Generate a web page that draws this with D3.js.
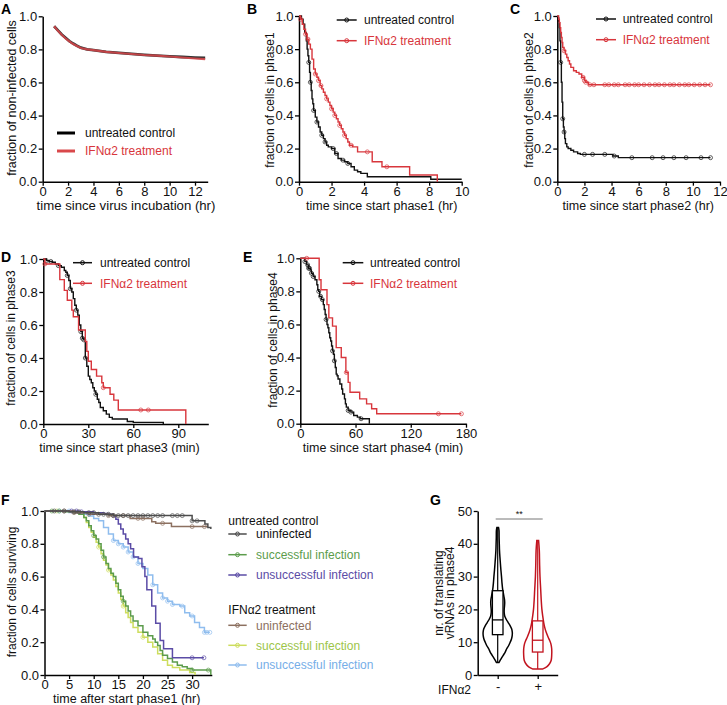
<!DOCTYPE html>
<html><head><meta charset="utf-8">
<script src="https://cdn.jsdelivr.net/npm/d3@7/dist/d3.min.js"></script>
<style>body{margin:0;background:#fff} svg text{font-family:"Liberation Sans",Arial,sans-serif}</style>
</head><body><script>
// ---------- DATA ----------
// Panel A: fraction of non-infected cells
const A_time = [0.9,1.2,1.5,1.8,2.1,2.4,2.7,3.0,3.5,4,5,6,7,8,9,10,11,12,12.8];
const A_ctrl = [0.94,0.915,0.89,0.87,0.85,0.835,0.822,0.81,0.80,0.795,0.785,0.779,0.773,0.767,0.762,0.758,0.754,0.75,0.748];
const A_ifn  = [0.94,0.912,0.888,0.866,0.848,0.832,0.82,0.808,0.80,0.795,0.785,0.778,0.772,0.766,0.762,0.757,0.751,0.745,0.741];

// Panel B: phase1 (hr)
const B_ctrl_t = [0,0.15,0.25,0.35,0.45,0.5,0.55,0.6,0.65,0.7,0.75,0.8,0.85,0.9,1.0,1.1,1.2,1.3,1.4,1.5,1.6,1.7,1.8,2.0,2.2,2.4,2.6,2.8,3.0,3.2,3.4,3.6,3.8,4.2,8.1];
const B_ctrl_s = [1,0.98,0.95,0.9,0.85,0.8,0.76,0.72,0.66,0.6,0.55,0.5,0.47,0.43,0.39,0.36,0.33,0.3,0.28,0.26,0.24,0.22,0.21,0.2,0.17,0.14,0.13,0.12,0.11,0.09,0.07,0.06,0.05,0.03,0.015];
const B_ctrl_end = 10;
const B_ctrl_cens = [0.6,0.7,0.9,1.1,1.4,1.6,2.1,2.3,2.7,3.0];
const B_ifn_t = [0,0.1,0.2,0.3,0.4,0.5,0.6,0.7,0.8,0.9,1.0,1.1,1.2,1.3,1.4,1.5,1.6,1.7,1.8,1.9,2.0,2.1,2.2,2.3,2.4,2.5,2.6,2.7,2.8,2.9,3.0,3.1,3.3,3.6,4.5,5.1,6.8,8.5];
const B_ifn_s = [1,0.98,0.95,0.92,0.89,0.86,0.83,0.8,0.74,0.68,0.65,0.63,0.61,0.58,0.56,0.54,0.52,0.5,0.48,0.46,0.44,0.42,0.4,0.38,0.36,0.34,0.32,0.3,0.28,0.26,0.24,0.22,0.21,0.18,0.12,0.09,0.04,0];
const B_ifn_end = 8.5;
const B_ifn_cens = [0.1,0.4,0.55,1.0,1.2,1.35,1.7,2.0,2.2,2.5,2.8,3.2,4.2,5.4];

// Panel C: phase2 (hr)
const C_ctrl_t = [0,0.05,0.1,0.15,0.2,0.25,0.3,0.35,0.4,0.45,0.5,0.55,0.6,0.7,0.8,1.0,1.2,1.5,1.7,4.1,4.5];
const C_ctrl_s = [1,0.99,0.97,0.93,0.85,0.72,0.6,0.48,0.38,0.33,0.3,0.26,0.23,0.21,0.2,0.19,0.18,0.17,0.165,0.155,0.145];
const C_ctrl_end = 11.3;
const C_ctrl_cens = [0.25,0.4,0.5,2.0,2.6,3.5,4.2,5.5,7.0,7.8,8.6,9.5,10.6,11.3];
const C_ifn_t = [0,0.1,0.15,0.2,0.25,0.3,0.35,0.4,0.5,0.6,0.7,0.8,0.9,1.0,1.2,1.4,1.6,1.8,2.0,2.1,2.3];
const C_ifn_s = [1,0.98,0.96,0.93,0.9,0.87,0.84,0.81,0.79,0.77,0.75,0.73,0.71,0.69,0.67,0.66,0.65,0.63,0.61,0.6,0.585];
const C_ifn_end = 11.3;
const C_ifn_cens = [0.5,1.9,2.0,2.1,2.4,2.7,3.5,3.8,4.2,4.5,5.0,5.3,5.7,6.0,6.4,6.8,7.2,7.5,7.9,8.3,8.6,9.0,9.4,9.7,10.1,10.5,10.9,11.3];

// Panel D: phase3 (min)
const D_ctrl_t = [0,2,4,6,8,10,12,14,15,16,17,18,19,20,21,22,23,24,25,26,27,28,29,30,31,32,33,34,35,36,37,38,40,42,44,46,56,60,80];
const D_ctrl_s = [1,0.99,0.985,0.98,0.97,0.96,0.95,0.93,0.92,0.9,0.87,0.82,0.8,0.76,0.72,0.69,0.66,0.6,0.56,0.52,0.51,0.4,0.35,0.29,0.27,0.25,0.22,0.2,0.18,0.15,0.13,0.1,0.08,0.06,0.04,0.03,0.015,0.01,0];
const D_ctrl_end = 80;
const D_ctrl_cens = [2,5,10,16,18,22,25,26,27,28,35];
const D_ifn_t = [0,1,11,14,16,19,20,23.5,28,29,30,32,35.5,39,40,44.5,47,50,95];
const D_ifn_s = [1,0.97,0.875,0.81,0.75,0.69,0.65,0.57,0.5,0.44,0.38,0.33,0.29,0.25,0.22,0.18,0.145,0.085,0];
const D_ifn_end = 95;
const D_ifn_cens = [1,40,65,70];

// Panel E: phase4 (min)
const E_ctrl_t = [0,5,7,9,11,12,14,16,18,19,20,21,23,25,26,27,28,29,30,31,32,33,34,35,36,37,38,39,40,41,43,45,46,48,49,50,52,55,58,62,65,75];
const E_ctrl_s = [1,0.98,0.96,0.94,0.93,0.91,0.89,0.87,0.84,0.81,0.8,0.77,0.75,0.72,0.69,0.66,0.63,0.6,0.58,0.55,0.52,0.5,0.47,0.44,0.42,0.38,0.34,0.3,0.29,0.27,0.24,0.21,0.18,0.15,0.12,0.1,0.08,0.07,0.05,0.04,0.03,0];
const E_ctrl_end = 75;
const E_ctrl_cens = [5,8,9,10,12,14,20,22,24,28,35,37,52,55,66];
const E_ifn_t = [0,20.5,22.5,29,31,35,39,44.5,49.5,52,54,64.5,72,77.5,83];
const E_ifn_s = [1,0.87,0.81,0.72,0.64,0.59,0.46,0.4,0.31,0.25,0.19,0.15,0.12,0.09,0.06];
const E_ifn_end = 175;
const E_ifn_cens = [7,50,150,175];

// Panel F: survival (hr)
const F_ctrl_uninf_t = [0,5,8,11,14,30,32.6,33.2,33.8];
const F_ctrl_uninf_s = [1,0.995,0.99,0.98,0.972,0.94,0.92,0.9,0.89];
const F_ctrl_uninf_cens = [2,4,6,7,9,10,11,12,13,14,15,16,17,18,19,20,21,22,23,24,26,27,28,30,31];
const F_ctrl_succ_t = [0,4,6,7,8,8.5,9,9.5,10,10.5,11,11.5,12,12.5,13,13.5,14,14.5,15,15.5,16,16.5,17,17.5,18,19,20,21,22,22.5,23,23.5,24,25,26,27,28,29,30,33.8];
const F_ctrl_succ_s = [1,0.995,0.99,0.98,0.96,0.94,0.91,0.88,0.85,0.83,0.8,0.76,0.72,0.68,0.65,0.62,0.6,0.56,0.52,0.48,0.45,0.42,0.39,0.36,0.33,0.3,0.26,0.24,0.22,0.2,0.18,0.15,0.12,0.1,0.08,0.06,0.05,0.04,0.03,0];
const F_ctrl_succ_cens = [1.5,3,10,12,16,30,33.3];
const F_ctrl_unsucc_t = [0,7,10,12,13,14,14.5,15,15.5,16,16.5,17,17.5,18.1,19.1,19.8,20.4,20.8,21.8,22.6,23.5,24.2,26];
const F_ctrl_unsucc_s = [1,0.995,0.99,0.985,0.98,0.97,0.95,0.92,0.89,0.86,0.83,0.8,0.77,0.72,0.71,0.66,0.6,0.52,0.42,0.315,0.21,0.16,0.105];
const F_ctrl_unsucc_end = 32.4;
const F_ctrl_unsucc_cens = [5.5,6.5,7.5,30,32.4];
const F_ifn_uninf_t = [0,6,9,13,17.4,21.8,22.6,25.8];
const F_ifn_uninf_s = [1,0.99,0.98,0.972,0.955,0.935,0.925,0.905];
const F_ifn_uninf_end = 33.2;
const F_ifn_uninf_cens = [4,6,9,13,14,16,19,20,24,30,32.5];
const F_ifn_succ_t = [0,5,7,7.5,8,8.5,9,9.5,10,10.5,11,11.5,12,12.5,13,13.5,14,14.5,15,15.5,16,16.5,17,17.5,18,19,20,21,22,23,24,25,26,27.5,29.5,30.6];
const F_ifn_succ_s = [1,0.995,0.99,0.98,0.96,0.93,0.9,0.87,0.84,0.81,0.78,0.74,0.7,0.67,0.64,0.61,0.58,0.54,0.5,0.46,0.42,0.38,0.35,0.32,0.29,0.26,0.23,0.2,0.17,0.13,0.09,0.06,0.045,0.03,0.015,0];
const F_ifn_succ_cens = [2.5,11,13,16,20];
const F_ifn_unsucc_t = [0,6,8,9,10,11,12,13,14,15,16,17,18,19,20,21,22,23,24,25,26,27.5,28.5,29.5,30.5,31.5,32.5];
const F_ifn_unsucc_s = [1,0.995,0.98,0.97,0.955,0.94,0.9,0.86,0.82,0.8,0.78,0.75,0.72,0.68,0.65,0.61,0.55,0.5,0.47,0.45,0.43,0.42,0.38,0.36,0.32,0.29,0.26];
const F_ifn_unsucc_end = 33.6;
const F_ifn_unsucc_cens = [3,5,14,15,16,17,18,19,22,24,25,26,28,30,32.5,33,33.6];

// Panel G: violins
const G_groups = ["-","+"];
const G_ctrl_lvl = [3.8,5,6,7,8,9,10,11,12,13,14,15,16,17,18,19,20,21,22,23,24,25,26,28,30,32,34,36,38,40,42,44,45];
const G_ctrl_den = [1.2,3.5,5.5,7.5,9,11,12.5,13.8,14.5,14.6,14,12.5,10.5,8.5,7,6.5,6.5,6.8,7,6.8,6.2,5.6,5,4.3,3.8,3.2,2.7,2.2,1.8,1.6,1.4,1.3,0.8];
const G_ifn_lvl = [1.8,2.5,3.5,4.5,6,8,9.5,10.5,11.5,13,14.5,16,18,20,23,26,30,34,38,41];
const G_ifn_den = [4.7,9,12,13.5,14,14,13.2,12,10.5,8.5,7,6,5,4.2,3.5,3,2.3,1.9,1.6,0.9];
const G_box = [ {min:3.8,q1:12.3,med:16.8,q3:25.7,max:45}, {min:1.8,q1:7,med:10.6,q3:16.5,max:41} ];

// ---------- DRAW ----------
const FONT = 12, TICKFONT = 13;
const RED = "#d8363c";
const svg = d3.select("body").append("svg").attr("width",727).attr("height",705);

function styleAxis(sel){
  sel.attr("font-size",TICKFONT).attr("font-family","Liberation Sans, Arial, sans-serif");
  sel.selectAll("path.domain").attr("stroke","#000").attr("stroke-width",1.5);
  sel.selectAll(".tick line").attr("stroke","#000").attr("stroke-width",1.3);
  sel.selectAll(".tick text").attr("fill","#111");
}
function panel(c){
  const x = d3.scaleLinear().domain(c.xd).range(c.xr);
  const y = d3.scaleLinear().domain(c.yd).range(c.yr);
  const g = svg.append("g");
  const f = d3.format(".1f");
  g.append("g").attr("transform",`translate(0,${c.yr[0]})`)
    .call(d3.axisBottom(x).tickValues(c.xt).tickSize(4).tickPadding(1).tickSizeOuter(0)).call(styleAxis);
  g.append("g").attr("transform",`translate(${c.xr[0]},0)`)
    .call(d3.axisLeft(y).tickValues([0,0.2,0.4,0.6,0.8,1.0]).tickFormat(f).tickSize(4).tickPadding(1.5).tickSizeOuter(0)).call(styleAxis);
  return {x,y,g};
}
function survAt(ts,ss,t){ let v=ss[0]; for(let i=0;i<ts.length;i++){ if(ts[i]<=t) v=ss[i]; } return v; }
function drawKM(P,ts,ss,end,cens,color,w){
  const pts = ts.map((t,i)=>[t,ss[i]]);
  if(end!==undefined && end>ts[ts.length-1]) pts.push([end,ss[ss.length-1]]);
  const line = d3.line().x(d=>P.x(d[0])).y(d=>P.y(d[1])).curve(d3.curveStepAfter);
  P.g.append("path").datum(pts).attr("d",line).attr("fill","none").attr("stroke",color).attr("stroke-width",w||1.4);
  P.g.selectAll(null).data(cens||[]).enter().append("circle")
    .attr("cx",t=>P.x(t)).attr("cy",t=>P.y(survAt(ts,ss,t))).attr("r",2)
    .attr("fill","none").attr("stroke",color).attr("stroke-width",0.9).attr("opacity",0.75);
}
function text(x,y,s,o={}){
  const t = svg.append("text").attr("x",x).attr("y",y).text(s)
    .attr("font-size",o.size||FONT).attr("fill",o.fill||"#111")
    .attr("text-anchor",o.anchor||"start").attr("font-weight",o.weight||"normal");
  return t;
}
function vtext(bx,cy,s,o={}){
  svg.append("text").attr("transform",`translate(${bx},${cy}) rotate(-90)`).attr("text-anchor","middle")
    .attr("font-size",o.size||FONT).attr("fill","#111").text(s);
}
function legendItem(x1,x2,y,tx,label,color,lineColor,opts={}){
  svg.append("line").attr("x1",x1).attr("x2",x2).attr("y1",y).attr("y2",y)
    .attr("stroke",lineColor||color).attr("stroke-width",opts.w||1.5);
  if(!opts.nomark) svg.append("circle").attr("cx",(x1+x2)/2).attr("cy",y).attr("r",opts.r||2)
    .attr("fill",opts.fill||"none").attr("stroke",lineColor||color).attr("stroke-width",1);
  text(tx,y+4.3,label,{fill:color});
}
function letter(x,y,s){ text(x,y,s,{size:14,weight:"bold",fill:"#000"}); }

// Panel A
{
  const P = panel({xd:[0,13],xr:[42.7,207.7],yd:[0,1],yr:[181.7,16.3],xt:[0,2,4,6,8,10,12]});
  const line = d3.line().x((d,i)=>P.x(A_time[i])).y(d=>P.y(d));
  P.g.append("path").datum(A_ctrl).attr("d",line).attr("fill","none").attr("stroke","#333").attr("stroke-width",2.8);
  P.g.append("path").datum(A_ifn).attr("d",line).attr("fill","none").attr("stroke","#d9484b").attr("stroke-width",2.2).attr("opacity",0.85);
  legendItem(57,75,133,85,"untreated control","#111","#000",{w:3,nomark:true});
  legendItem(57,75,151,85,"IFNα2 treatment",RED,"#d9484b",{w:3,nomark:true});
  vtext(16,98,"fraction of non-infected cells",{size:12.5});
  text(126,210,"time since virus incubation (hr)",{anchor:"middle",size:13.2});
  letter(1,14,"A");
}
// Panel B
{
  const P = panel({xd:[0,10],xr:[299,461.7],yd:[0,1],yr:[181.7,16],xt:[0,2,4,6,8,10]});
  drawKM(P,B_ctrl_t,B_ctrl_s,B_ctrl_end,B_ctrl_cens,"#111");
  drawKM(P,B_ifn_t,B_ifn_s,B_ifn_end,B_ifn_cens,RED);
  legendItem(336.7,356.7,20,364,"untreated control","#111","#111");
  legendItem(336.7,356.7,40.7,364,"IFNα2 treatment",RED,RED);
  vtext(274,100,"fraction of cells in phase1");
  text(381.7,210,"time since start phase1 (hr)",{anchor:"middle",size:12.5});
  letter(247,14,"B");
}
// Panel C
{
  const P = panel({xd:[0,12],xr:[557.3,720],yd:[0,1],yr:[181.7,16],xt:[0,2,4,6,8,10,12]});
  drawKM(P,C_ctrl_t,C_ctrl_s,C_ctrl_end,C_ctrl_cens,"#111");
  drawKM(P,C_ifn_t,C_ifn_s,C_ifn_end,C_ifn_cens,RED);
  legendItem(596,616,19,622.7,"untreated control","#111","#111");
  legendItem(596,616,39.7,622.7,"IFNα2 treatment",RED,RED);
  vtext(533,100,"fraction of cells in phase2");
  text(638.3,210,"time since start phase2 (hr)",{anchor:"middle",size:12.5});
  letter(510,14,"C");
}
// Panel D
{
  const P = panel({xd:[0,110],xr:[43.3,208.3],yd:[0,1],yr:[424,259],xt:[0,30,60,90]});
  drawKM(P,D_ctrl_t,D_ctrl_s,D_ctrl_end,D_ctrl_cens,"#111");
  drawKM(P,D_ifn_t,D_ifn_s,D_ifn_end,D_ifn_cens,RED);
  legendItem(73,92,262.7,100,"untreated control","#111","#111");
  legendItem(73,92,283.3,100,"IFNα2 treatment",RED,RED);
  vtext(14.5,338,"fraction of cells in phase3");
  text(119.5,452,"time since start phase3 (min)",{anchor:"middle",size:12.5});
  letter(1,262,"D");
}
// Panel E
{
  const P = panel({xd:[0,180],xr:[300.3,466],yd:[0,1],yr:[423.7,258.3],xt:[0,60,120,180]});
  drawKM(P,E_ctrl_t,E_ctrl_s,E_ctrl_end,E_ctrl_cens,"#111");
  drawKM(P,E_ifn_t,E_ifn_s,E_ifn_end,E_ifn_cens,RED);
  legendItem(342.7,363.3,262.7,370,"untreated control","#111","#111");
  legendItem(342.7,363.3,283.3,370,"IFNα2 treatment",RED,RED);
  vtext(277,340,"fraction of cells in phase4");
  text(383,452,"time since start phase4 (min)",{anchor:"middle",size:12.5});
  letter(243,262,"E");
}
// Panel F
{
  const gray="#4d4d4d", green="#5c9c4c", purple="#5b4ca6", brown="#8c7060", lime="#cddd5e", limeT="#9cc54a", blue="#8fbdee", blueT="#76aee8";
  const P = panel({xd:[0,34],xr:[44.5,211.8],yd:[0,1],yr:[675,511],xt:[0,5,10,15,20,25,30]});
  drawKM(P,F_ifn_succ_t,F_ifn_succ_s,undefined,F_ifn_succ_cens,lime,1.5);
  drawKM(P,F_ifn_unsucc_t,F_ifn_unsucc_s,F_ifn_unsucc_end,F_ifn_unsucc_cens,blue,1.5);
  drawKM(P,F_ctrl_succ_t,F_ctrl_succ_s,undefined,F_ctrl_succ_cens,green,1.5);
  drawKM(P,F_ctrl_unsucc_t,F_ctrl_unsucc_s,F_ctrl_unsucc_end,F_ctrl_unsucc_cens,purple,1.5);
  drawKM(P,F_ifn_uninf_t,F_ifn_uninf_s,F_ifn_uninf_end,F_ifn_uninf_cens,brown,1.5);
  drawKM(P,F_ctrl_uninf_t,F_ctrl_uninf_s,undefined,F_ctrl_uninf_cens,gray,1.5);
  text(228.3,525,"untreated control");
  legendItem(228.3,246.7,534,256,"uninfected","#111",gray);
  legendItem(228.3,246.7,554.7,256,"successful infection",green,green);
  legendItem(228.3,246.7,575,256,"unsuccessful infection",purple,purple);
  text(228.3,613.5,"IFNα2 treatment");
  legendItem(228.3,246.7,625.3,256,"uninfected",brown,brown);
  legendItem(228.3,246.7,645.3,256,"successful infection",limeT,lime);
  legendItem(228.3,246.7,665,256,"unsuccessful infection",blueT,blue);
  vtext(16,592,"fraction of cells surviving");
  text(126.7,702.5,"time after start phase1 (hr)",{anchor:"middle",size:12.5});
  letter(1,505,"F");
}
// Panel G
{
  const x = d3.scalePoint().domain(G_groups).range([477.7,557.7]).padding(0.5);
  const y = d3.scaleLinear().domain([0,50]).range([675,511]);
  const w = d3.scaleLinear().domain([0,14.6]).range([0,14.6]);
  const g = svg.append("g");
  g.append("g").attr("transform","translate(0,675)").call(d3.axisBottom(x).tickSize(4).tickPadding(3).tickSizeOuter(0)).call(styleAxis);
  g.append("g").attr("transform","translate(477.7,0)").call(d3.axisLeft(y).tickValues([0,10,20,30,40,50]).tickSize(4).tickPadding(1.5).tickSizeOuter(0)).call(styleAxis);
  const cols = ["#000","#c2141f"];
  const sets = [[G_ctrl_lvl,G_ctrl_den],[G_ifn_lvl,G_ifn_den]];
  sets.forEach(([lv,dn],k)=>{
    const cx = x(G_groups[k]);
    const pts = lv.map((v,i)=>[v,dn[i]]);
    const area = d3.area().y(d=>y(d[0])).x0(d=>cx-w(d[1])).x1(d=>cx+w(d[1])).curve(d3.curveCatmullRom);
    g.append("path").datum(pts).attr("d",area).attr("fill","none").attr("stroke",cols[k]).attr("stroke-width",1.5);
    const b = G_box[k];
    g.append("line").attr("x1",cx).attr("x2",cx).attr("y1",y(b.min)).attr("y2",y(b.max)).attr("stroke",cols[k]).attr("stroke-width",1.2);
    g.append("rect").attr("x",cx-5.3).attr("width",10.6).attr("y",y(b.q3)).attr("height",y(b.q1)-y(b.q3))
      .attr("fill","#fff").attr("stroke",cols[k]).attr("stroke-width",1.3);
    g.append("line").attr("x1",cx-5.3).attr("x2",cx+5.3).attr("y1",y(b.med)).attr("y2",y(b.med)).attr("stroke",cols[k]).attr("stroke-width",1.3);
  });
  g.append("line").attr("x1",495.7).attr("x2",542.7).attr("y1",519).attr("y2",519).attr("stroke","#777").attr("stroke-width",1);
  text(519.2,517,"**",{anchor:"middle",size:9});
  text(471,693.5,"IFNα2",{anchor:"end"});
  svg.append("text").attr("transform","translate(442.5,593) rotate(-90)").attr("text-anchor","middle").attr("font-size",FONT).attr("fill","#111").text("nr. of translating");
  svg.append("text").attr("transform","translate(453.5,593) rotate(-90)").attr("text-anchor","middle").attr("font-size",FONT).attr("fill","#111").text("vRNAs in phase4");
  letter(430,505,"G");
}
</script></body></html>
